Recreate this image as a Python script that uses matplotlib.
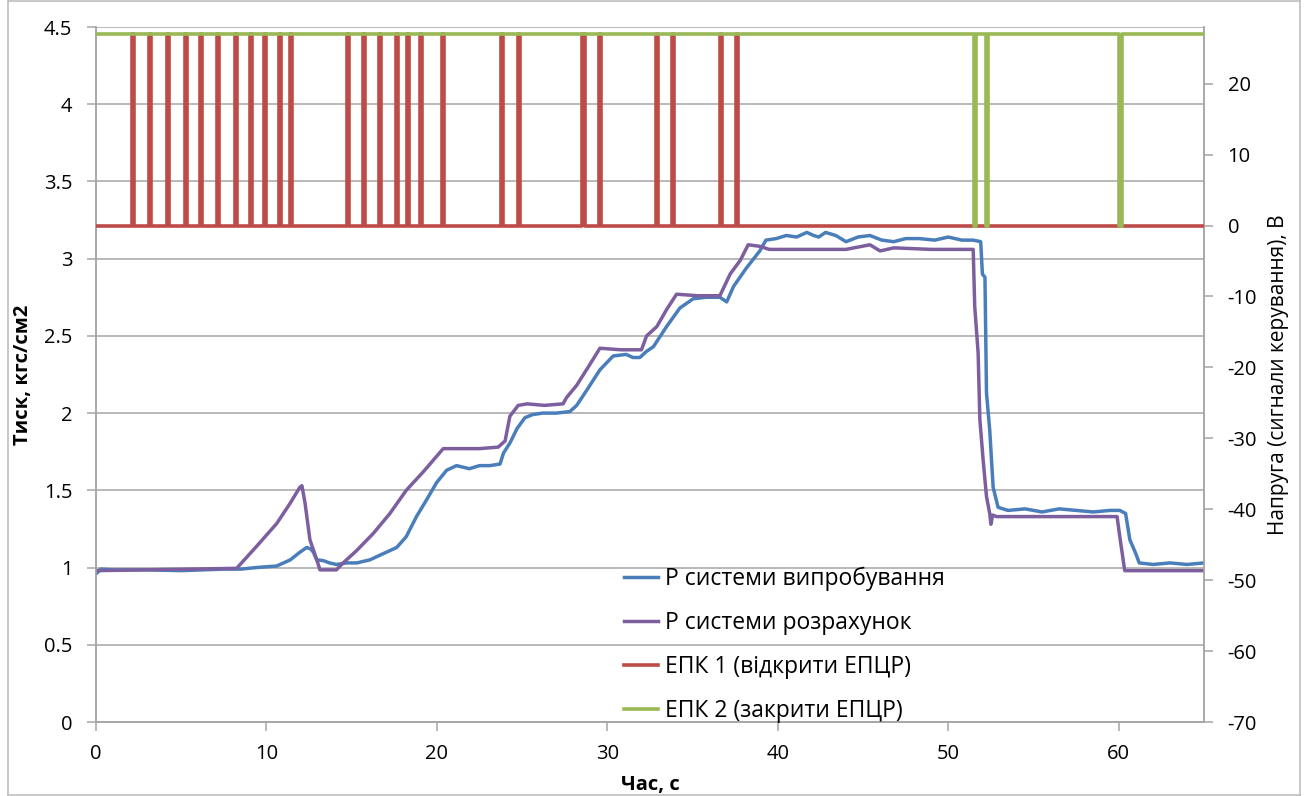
import matplotlib
matplotlib.use("Agg")
import matplotlib.pyplot as plt
from matplotlib.lines import Line2D
import numpy as np

plt.rcParams['font.family'] = ['Open Sans', 'DejaVu Sans']
plt.rcParams['axes.unicode_minus'] = False

# Measured system pressure, kgf/cm2
t_test = [0.0, 0.3, 1.0, 3.0, 5.0, 7.5, 8.5, 9.4, 10.6, 11.0, 11.4, 11.97, 12.36, 12.6,
          12.75, 12.95, 13.33, 13.7, 14.1, 14.7, 15.3, 16.07, 16.85, 17.64, 18.2, 18.8,
          19.4, 19.98, 20.57, 21.15, 21.9, 22.5, 23.1, 23.7, 23.9, 24.3, 24.7, 25.16,
          25.6, 26.2, 27.0, 27.8, 28.2, 28.8, 29.56, 30.34, 31.1, 31.5, 31.9, 32.3,
          32.7, 33.47, 34.25, 35.03, 35.8, 36.6, 37.0, 37.4, 38.16, 38.94, 39.3, 39.9,
          40.5, 41.1, 41.7, 42.1, 42.4, 42.8, 43.4, 44.0, 44.7, 45.4, 46.1, 46.8, 47.5,
          48.3, 49.2, 50.0, 50.8, 51.46, 51.9, 52.0, 52.15, 52.24, 52.43, 52.63, 52.92,
          53.5, 54.5, 55.5, 56.5, 57.5, 58.5, 59.5, 60.06, 60.4, 60.65, 61.0, 61.2,
          62.0, 63.0, 64.0, 65.0]
p_test = [0.96, 0.99, 0.985, 0.985, 0.98, 0.99, 0.99, 1.0, 1.01, 1.03, 1.05, 1.10, 1.13, 1.12,
          1.10, 1.05, 1.045, 1.03, 1.02, 1.03, 1.03, 1.05, 1.09, 1.13, 1.2, 1.33,
          1.44, 1.55, 1.63, 1.66, 1.64, 1.66, 1.66, 1.67, 1.74, 1.81, 1.9, 1.97,
          1.99, 2.0, 2.0, 2.01, 2.05, 2.15, 2.28, 2.37, 2.38, 2.36, 2.36, 2.40,
          2.43, 2.56, 2.68, 2.74, 2.75, 2.75, 2.72, 2.82, 2.94, 3.05, 3.12, 3.13,
          3.15, 3.14, 3.17, 3.15, 3.14, 3.17, 3.15, 3.11, 3.14, 3.15, 3.12, 3.11, 3.13,
          3.13, 3.12, 3.14, 3.12, 3.12, 3.11, 2.9, 2.88, 2.13, 1.89, 1.52, 1.39,
          1.37, 1.38, 1.36, 1.38, 1.37, 1.36, 1.37, 1.37, 1.35, 1.18, 1.09, 1.03,
          1.02, 1.03, 1.02, 1.03]

# Calculated system pressure, kgf/cm2
t_calc = [0.0, 8.25, 9.4, 10.6, 11.38, 11.96, 12.08, 12.26, 12.55, 12.95, 13.14, 14.1,
          14.5, 15.29, 16.26, 17.24, 18.2, 19.2, 19.98, 20.37, 21.5, 22.5, 23.6, 24.0,
          24.28, 24.77, 25.3, 26.3, 27.4, 27.6, 28.2, 29.0, 29.56, 30.8, 32.0, 32.3,
          32.9, 33.47, 34.06, 35.3, 36.6, 37.2, 37.8, 38.26, 38.94, 39.5, 42.0, 44.0,
          45.4, 46.0, 46.8, 49.0, 51.46, 51.55, 51.75, 51.85, 52.04, 52.24, 52.43,
          52.5, 52.6, 52.83, 56.0, 59.9, 60.06, 60.35, 65.0]
p_calc = [0.98, 0.995, 1.135, 1.285, 1.415, 1.52, 1.53, 1.42, 1.18, 1.05, 0.985, 0.985,
          1.03, 1.11, 1.22, 1.35, 1.50, 1.62, 1.72, 1.77, 1.77, 1.77, 1.78, 1.82,
          1.98, 2.05, 2.06, 2.05, 2.06, 2.1, 2.18, 2.32, 2.42, 2.41, 2.41, 2.5,
          2.56, 2.67, 2.77, 2.76, 2.76, 2.9, 2.99, 3.09, 3.08, 3.06, 3.06, 3.06,
          3.09, 3.05, 3.07, 3.06, 3.06, 2.69, 2.39, 1.96, 1.70, 1.46, 1.35,
          1.28, 1.34, 1.33, 1.33, 1.33, 1.2, 0.98, 0.98]

# Control valve signals, V
signal_high = 27.0
epk1_on = [2.09, 3.13, 4.18, 5.24, 6.08, 7.12, 8.17, 9.03, 9.85, 10.73, 11.38,
           14.72, 15.67, 16.61, 17.58, 18.22, 19.0, 20.28, 23.77, 24.73,
           28.54, 29.48, 32.83, 33.78, 36.62, 37.57]
epk1_width = 0.12
epk2_off = [51.5, 52.2, 60.02]
epk2_width = [0.1, 0.1, 0.18]

t_end = 65.0


def pulse_train(starts, widths, base, level, t_stop):
    xs, ys = [0.0], [base]
    for s, w in zip(starts, widths):
        xs += [s, s, s + w, s + w]
        ys += [base, level, level, base]
    xs.append(t_stop)
    ys.append(base)
    return xs, ys


e1_t, e1_v = pulse_train(epk1_on, [epk1_width] * len(epk1_on), 0.0, signal_high, t_end)
e2_t, e2_v = pulse_train(epk2_off, epk2_width, signal_high, 0.0, t_end)

c_blue = '#4A7EBB'
c_purple = '#7D5FA0'
c_red = '#BE4B48'
c_green = '#98B954'
c_grid = '#A6A6A6'
c_text = '#000000'

fig = plt.figure(figsize=(13.07, 7.96), dpi=100)
ax = fig.add_axes([96 / 1307, 1 - 722 / 796, (1204 - 96) / 1307, (722 - 27) / 796])
ax2 = ax.twinx()

ax.set_xlim(0, t_end)
ax.set_ylim(0, 4.5)
ax2.set_ylim(-70, 28.0)

ax.set_yticks(np.arange(0, 4.51, 0.5))
ax.set_yticklabels(['0', '0.5', '1', '1.5', '2', '2.5', '3', '3.5', '4', '4.5'])
ax.set_xticks(np.arange(0, 61, 10))
ax2.set_yticks(np.arange(-70, 21, 10))

ax.grid(axis='y', color=c_grid, linewidth=1.1)
ax.set_axisbelow(True)

for a in (ax, ax2):
    for side in a.spines:
        a.spines[side].set_color(c_grid)
        a.spines[side].set_linewidth(1.1)
    a.spines['top'].set_visible(False)
    a.tick_params(colors=c_grid, labelcolor=c_text, labelsize=14.5, length=6.5, width=1.1)
ax.tick_params(axis='x', pad=9)
ax.tick_params(axis='y', pad=10.5)
ax2.tick_params(axis='y', pad=10.5)

l1, = ax.plot(t_test, p_test, color=c_blue, lw=2.5, label='P системи випробування', zorder=3)
l2, = ax.plot(t_calc, p_calc, color=c_purple, lw=2.5, label='P системи розрахунок', zorder=3)
l3, = ax2.plot(e1_t, e1_v, color=c_red, lw=2.6, label='ЕПК 1 (відкрити ЕПЦР)', zorder=3)
l4, = ax2.plot(e2_t, e2_v, color=c_green, lw=2.6, label='ЕПК 2 (закрити ЕПЦР)', zorder=4)

ax.set_xlabel('Час, с', fontsize=14.5, fontweight='bold', labelpad=8)
ax.set_ylabel('Тиск, кгс/см2', fontsize=14.5, fontweight='bold', labelpad=8)
ax2.set_ylabel('Напруга (сигнали керування), В', fontsize=15, labelpad=8)

leg = ax2.legend(handles=[l1, l2, l3, l4], loc='upper left',
                 bbox_to_anchor=((624 - 96) / 1108, 1 - (567 - 27) / 695),
                 frameon=False, fontsize=16.5, handlelength=1.5, handletextpad=0.3,
                 labelspacing=0.87, borderaxespad=0, borderpad=0)

# outer chart-area frame
frame = [((8, 1300), (1, 1)), ((8, 1300), (795, 795)), ((8, 8), (1, 795)), ((1300, 1300), (1, 795))]
for xs, ys in frame:
    fig.add_artist(Line2D([x / 1307 for x in xs], [1 - y / 796 for y in ys],
                          transform=fig.transFigure, color='#BFBFBF', linewidth=1.2))

fig.savefig('out.png', dpi=100)
